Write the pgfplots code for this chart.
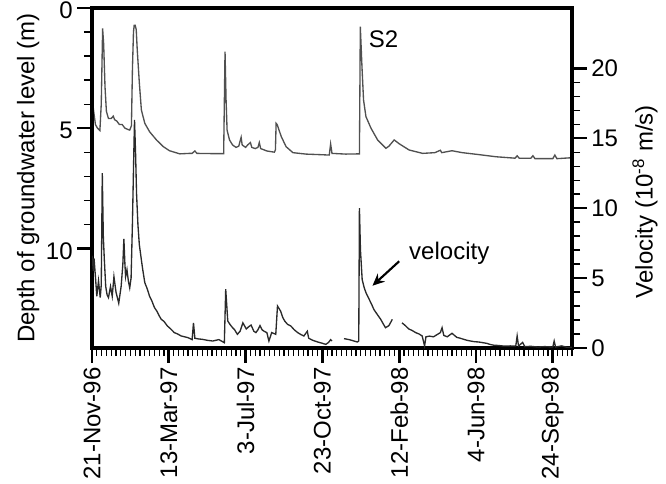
\documentclass[border=0pt]{standalone}
\usepackage{pgfplots}
\pgfplotsset{compat=1.18}
\usepackage{fontspec}
\setmainfont{Liberation Sans}
\usetikzlibrary{arrows.meta}
\definecolor{depthc}{HTML}{505050}
\definecolor{velc}{HTML}{2A2A2A}
\newcommand{\lblfont}{\fontsize{18}{21}\selectfont}
\begin{document}
\begin{tikzpicture}
\useasboundingbox (-69pt,-101.25pt) rectangle (430.5pt,261pt);
\pgfplotsset{
  common/.style={
    at={(0pt,0pt)}, anchor=south west,
    scale only axis, width=360pt, height=255pt,
    xmin=0, xmax=700,
    /pgf/number format/assume math mode=true,
    tick align=outside,
    major tick length=11pt, minor tick length=6pt,
    major tick style={black, line width=2pt},
    minor tick style={black, line width=0.9pt},
    axis line style={line width=2.4pt},
    tick label style={font=\lblfont},
    label style={font=\lblfont},
  }
}
\begin{axis}[common,
  ymin=0, ymax=14.15, y dir=reverse,
  xtick={0,112,224,336,448,560,672},
  xticklabels={21-Nov-96,13-Mar-97,3-Jul-97,23-Oct-97,12-Feb-98,4-Jun-98,24-Sep-98},
  minor xtick={7,14,...,700},
  xticklabel style={rotate=90, anchor=east},
  xtick pos=bottom,
  ytick={0,5,10}, minor ytick={1,2,3,4,6,7,8,9},
  ytick pos=left,
  yticklabel style={yshift=-2pt},
  ylabel={Depth of groundwater level (m)},
  ylabel style={at={(axis description cs:-0.133,0.5)}, anchor=center},
]
\addplot[depthc, line width=1pt] coordinates {
(0,3.3) (2,4.2) (5,4.85) (8,5.0) (11.5,5.1) (13.5,4.0) (15.5,0.85) (17,1.5) (19,3.3)
(21,4.3) (24,4.6) (28,4.6) (31,4.5) (33,4.65) (36,4.7) (40,4.85) (44,4.85) (48,5.0)
(52,5.05) (55,5.08) (57.5,4.9) (59,2.5) (60.5,1.0) (61.5,0.72) (63,0.72) (64.5,0.9)
(66,1.75) (69,3.1) (72,4.24) (77,4.8) (84,5.15) (94,5.49) (104,5.77) (113,5.94)
(128,6.07) (142,6.05) (146,6.05) (150,5.95) (153,6.05) (176,6.06) (192,6.06)
(194,1.82) (195.5,3.8) (197,5.08) (200.5,5.49) (205,5.7) (210,5.8) (214,5.75)
(217.5,5.38) (219,5.7) (224,5.8) (227,5.7) (231,5.6) (233,5.8) (238,5.85) (242,5.8)
(244,5.6) (246,5.85) (255,5.95) (266,6.0) (267.5,5.9) (268.5,4.8) (270,4.85)
(276,5.35) (283,5.77) (293,6.02) (312,6.08) (330,6.1) (346,6.12) (348,5.66)
(350,6.05) (370,6.08) (390,6.07) (391.3,0.78) (393.7,2.44) (396,3.83) (399.5,4.52)
(406.8,5.0) (416.5,5.49) (428.6,5.84) (433,5.75) (440.7,5.49) (448,5.65)
(462.5,5.91) (482,6.05) (500,6.02) (508,5.92) (510,6.02) (525,5.94) (540,6.02)
(564,6.1) (589,6.19) (617,6.25) (620,6.15) (623,6.25) (640,6.25) (643,6.15)
(646,6.27) (672,6.27) (675,6.12) (678,6.27) (700,6.23)
};
\node[anchor=west, font=\lblfont] at (axis cs:397,1.3) {S2};
\draw[line width=2.4pt] (rel axis cs:0,0) rectangle (rel axis cs:1,1);
\end{axis}
\begin{axis}[common,
  ymin=0, ymax=24.3,
  axis x line=none,
  axis y line*=right,
  ytick={0,5,10,15,20}, minor ytick={1,2,3,4,6,7,8,9,11,12,13,14,16,17,18,19},
  ylabel={Velocity (10\textsuperscript{-8} m/s)},
  ylabel style={at={(axis description cs:1.152,0.43)}, anchor=center},
  unbounded coords=jump,
]
\addplot[velc, line width=1pt] coordinates {
(0,6.6) (2,5.5) (3,6.4) (5,5.1) (7,3.7) (9.5,4.8) (12,3.6) (13.5,4.5) (15,12.5)
(16.5,8) (18,6.3) (20,4.4) (22,3.8) (24,3.6) (27,4.4) (29.5,3.7) (32,5.1) (35,4.0)
(37,3.6) (39,3.2) (42.5,4.4) (45,6) (46.5,7.8) (48,6) (49,5.1) (51,5.6) (53,4.8)
(55,4.3) (57,5.0) (59,9) (61,14) (62,16.3) (63.5,14) (65,11) (67,8.8) (69,7.4)
(72,6.3) (74,5.6) (77,4.67) (80,4.3) (84,3.7) (87,3.4) (91,2.9) (95,2.6) (98,2.3)
(101,2.05) (105,1.9) (110,1.57) (114,1.4) (120,1.1) (125,1.0) (130,0.86)
(135,0.8) (140,0.74) (146,0.6) (148,1.8) (150,0.7) (155,0.65) (161,0.62) (168,0.55)
(176,0.5) (185,0.6) (193,0.38) (195,4.2) (198,1.93) (201,1.7) (205,1.45) (208,1.3)
(212,0.98) (216,1.2) (220,1.8) (225,1.36) (228,1.5) (232,1.64) (236,1.2) (239,1.1)
(242,1.3) (245,1.6) (248,1.3) (251,1.2) (255,1.1) (258,0.5) (262,1.1) (268,0.98)
(270.5,3.0) (273,2.8) (275,2.64) (278,2.2) (281,1.93) (285,1.7) (290,1.57)
(295,1.3) (300,1.1) (305,0.95) (309,0.86) (314,1.2) (316,0.7) (322,0.55)
(329,0.43) (335,0.35) (341,0.26) (345,0.4) (348,0.6) (350,0.5)
(359,nan)
(367.5,0.67) (375,0.6) (382,0.5) (387,0.43) (389,0.5) (390,10.0) (391.5,7)
(394,4.9) (397,4.3) (400,3.9) (404,3.5) (408,3.1) (411,2.76) (416,2.4) (421,2.05)
(425,1.7) (428,1.45) (433,1.6) (438,2.05)
(445,nan)
(452,1.8) (457,1.6) (462,1.36) (467,1.25) (472,1.1) (477,1.0) (481.5,0.86)
(485,0.15) (487,0.8) (492,0.85) (498,0.8) (503,0.95) (508,1.1) (510.5,1.45)
(513,0.9) (518,0.8) (525,1.05) (532,0.76) (537,0.7) (542,0.62) (547,0.55)
(552,0.5) (558,0.45) (564,0.43) (570,0.38) (576,0.33) (581,0.25) (586,0.2)
(593,0.18) (600,0.14) (610,0.15) (618,0.14) (620,0.86) (622,0.14) (628,0.4)
(631,0.1) (640,0.12) (650,0.07) (660,0.1) (672,0.07) (674,0.5) (676,0.07)
(685,0.15) (692,0.06) (700,0.05)
};
\node[font=\lblfont] at (axis cs:521,6.8) {velocity};
\draw[-{Stealth[length=9pt,width=8pt]}, line width=1.6pt] (axis cs:448,6.2) -- (axis cs:409,4.45);
\end{axis}
\end{tikzpicture}
\end{document}
